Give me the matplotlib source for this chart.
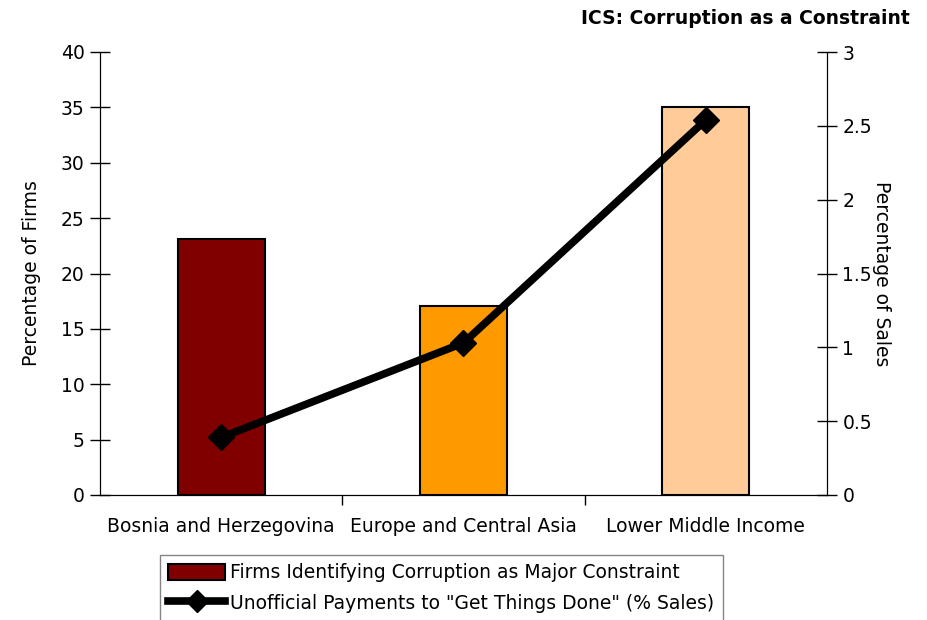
import matplotlib.pyplot as plt
from matplotlib.lines import Line2D
from matplotlib.patches import Patch

categories = ["Bosnia and Herzegovina", "Europe and Central Asia", "Lower Middle Income"]
firms_pct = [23.1, 17.1, 35.0]        # left axis, % of firms
payments_pct = [0.39, 1.03, 2.54]     # right axis, % of sales
bar_colors = ["#800000", "#FF9900", "#FFCC99"]

plt.rcParams['font.family'] = ['DejaVu Sans']
fs = 13.5

fig = plt.figure(figsize=(9.27, 6.2), dpi=100)
ax = fig.add_axes([100/927, 1-495/620, 727/927, 443/620])
x = list(range(len(categories)))

ax.bar(x, firms_pct, width=0.36, color=bar_colors, edgecolor="black", linewidth=1.5, zorder=2)
ax.set_xlim(-0.5, 2.5)
ax.set_ylim(0, 40)
ax.set_yticks(range(0, 41, 5))
ax.set_xticks(x)
ax.set_xticklabels(categories, fontsize=fs)
ax.set_xticks([0.5, 1.5], minor=True)
ax.tick_params(axis='x', which='major', length=0, pad=16)
ax.tick_params(axis='x', which='minor', length=7, direction='out', width=1)
ax.tick_params(axis='y', direction='inout', length=14, width=1, labelsize=fs, pad=4)
ax.set_ylabel("Percentage of Firms", fontsize=fs, labelpad=14)
ax.spines['top'].set_visible(False)

ax2 = ax.twinx()
ax2.plot(x, payments_pct, color="black", linewidth=5.5, marker="D", markersize=13, zorder=3)
ax2.set_ylim(0, 3)
ax2.set_yticks([0, 0.5, 1, 1.5, 2, 2.5, 3])
ax2.set_yticklabels(["0", "0.5", "1", "1.5", "2", "2.5", "3"])
ax2.tick_params(axis='y', direction='inout', length=14, width=1, labelsize=fs, pad=4)
ax2.set_ylabel("Percentage of Sales", fontsize=fs, rotation=-90, labelpad=14)
ax2.spines['top'].set_visible(False)

fig.text(910/927, 1-18/620, "ICS: Corruption as a Constraint", ha="right", va="center",
         fontsize=fs, fontweight="bold")

handles = [Patch(facecolor="#800000", edgecolor="black", linewidth=1.5),
           Line2D([], [], color="black", linewidth=5.5, marker="D", markersize=11)]
labels = ["Firms Identifying Corruption as Major Constraint",
          "Unofficial Payments to \"Get Things Done\" (% Sales)"]
leg = fig.legend(handles, labels, loc="upper left", bbox_to_anchor=(160/927, 1-555/620),
                 fontsize=fs, frameon=True, fancybox=False, handlelength=3.0,
                 handleheight=1.0, handletextpad=0.3, borderpad=0.45, labelspacing=0.6,
                 borderaxespad=0)
leg.get_frame().set_edgecolor("#666666")
leg.get_frame().set_linewidth(1)

plt.savefig("out.png", dpi=100)
